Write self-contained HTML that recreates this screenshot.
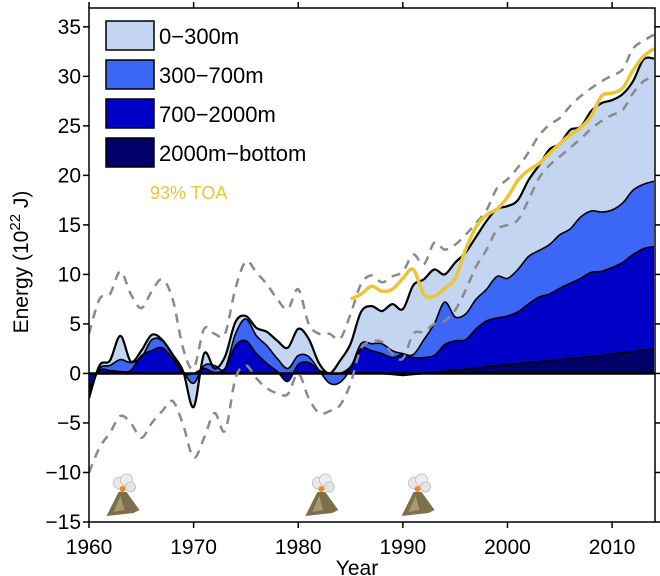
<!DOCTYPE html>
<html><head><meta charset="utf-8"><style>
body{margin:0;background:#fff;}
svg{display:block;font-family:"Liberation Sans",Arial,sans-serif;}
</style></head><body>
<svg id="chart" width="660" height="576" viewBox="0 0 660 576"></svg>
<script>
const years = [];
for (let y = 1960; y <= 2014; y++) years.push(y);
const totalHeat = [-2.5,0.8,1.3,3.8,1.2,2.3,3.9,3.4,1.9,0.2,-3.4,2.0,0.5,1.7,5.2,5.8,4.6,4.2,3.3,2.6,4.5,3.5,1.0,0.0,1.3,3.0,6.2,6.8,6.3,7.0,6.5,8.9,9.5,10.5,10.0,11.2,12.2,13.8,15.4,16.6,16.9,17.5,19.5,21.0,22.6,23.2,24.6,24.9,26.5,27.3,27.6,28.2,29.5,31.7,31.8];
const below300 = [-2.0,0.5,0.8,1.4,1.1,1.6,3.4,3.3,1.8,0.2,-1.0,0.8,0.8,0.5,4.0,5.5,3.8,2.8,1.5,0.5,1.8,1.7,0.3,-1.0,-0.9,0.5,3.0,3.0,3.0,2.3,2.0,1.9,3.4,5.0,7.2,5.7,6.0,7.5,8.5,9.8,9.6,10.5,11.8,12.4,13.0,14.0,14.6,15.8,16.4,16.3,16.5,17.2,18.5,19.1,19.4];
const below700 = [-1.5,0.3,0.3,0.2,0.3,1.8,2.3,2.6,1.5,0.0,0.0,0.5,0.1,0.5,2.8,3.3,2.0,1.0,0.2,-0.8,0.9,1.1,0.3,0.0,0.0,0.7,2.5,2.3,2.0,1.6,1.9,1.6,1.6,1.8,2.9,3.3,3.4,4.5,5.3,5.6,5.8,6.2,7.0,7.7,8.0,8.6,9.1,9.6,10.2,10.3,10.7,11.2,12.0,12.6,12.8];
const below2000 = [0,0,0,0,0,0,0,0,0,0,0,0,0,0,0,0,0,0,0,0,0,0,0,0,0,0,0.05,0.1,0,-0.1,-0.2,-0.1,0,0.11,0.22,0.33,0.44,0.55,0.66,0.77,0.88,0.99,1.1,1.2,1.3,1.4,1.5,1.6,1.7,1.8,1.95,2.1,2.2,2.35,2.5];
const upperBound = [4.0,7.5,8.0,10.3,8.0,6.6,8.3,9.5,7.5,2.5,0.5,4.5,4.0,4.0,8.6,11.3,10.2,9.0,7.5,6.5,8.5,5.0,4.0,4.0,3.5,6.0,9.0,9.9,9.2,9.8,10.3,12.0,11.0,13.2,12.5,13.0,14.0,15.2,16.5,18.7,19.6,20.8,22.3,24.0,25.1,25.8,27.0,28.0,28.8,29.5,30.1,30.7,32.8,33.6,34.2];
const lowerBound = [-10.0,-7.5,-6.0,-4.3,-5.0,-6.5,-5.0,-3.8,-2.8,-5.2,-8.5,-6.5,-4.0,-5.8,-0.5,0.8,-0.5,-1.5,-2.0,-2.1,0.0,-2.5,-4.0,-3.8,-3.2,-1.0,2.5,3.2,3.2,2.0,1.5,4.0,4.2,5.0,5.3,6.4,8.4,10.8,12.5,14.5,15.0,15.5,17.5,19.7,21.0,21.9,22.8,23.7,24.7,25.5,26.1,26.6,28.3,29.5,30.0];
const toaYears = [];
for (let y = 1985; y <= 2014; y++) toaYears.push(y);
const toa93 = [7.5,8.0,8.8,8.3,8.5,9.6,10.5,8.0,7.8,8.6,9.6,12.5,14.8,16.0,16.6,17.8,19.5,20.5,21.2,22.2,23.2,24.1,24.8,26.0,28.0,28.3,28.8,30.6,32.0,32.8];
const yTicks = [-15,-10,-5,0,5,10,15,20,25,30,35];
const xTicks = [1960,1970,1980,1990,2000,2010];
const volcanoYears = [1963.3, 1982.3, 1991.5];

const NS = "http://www.w3.org/2000/svg";
const svg = document.getElementById('chart');
const L = 89, R = 655, T = 8, B = 522;
const X0 = 1960, X1 = 2014.1, Y0 = -15, Y1 = 36.9;
const xs = v => L + (v - X0) / (X1 - X0) * (R - L);
const ys = v => B - (v - Y0) / (Y1 - Y0) * (B - T);

function el(tag, attrs, parent) {
  const e = document.createElementNS(NS, tag);
  for (const k in attrs) e.setAttribute(k, attrs[k]);
  (parent || svg).appendChild(e);
  return e;
}
function pts(xa, ya) { return xa.map((x, i) => [xs(x), ys(ya[i])]); }
function smoothPath(p, move) {
  let d = (move ? 'M' : 'L') + p[0][0].toFixed(1) + ',' + p[0][1].toFixed(1);
  for (let i = 0; i < p.length - 1; i++) {
    const p0 = p[i - 1] || p[i], p1 = p[i], p2 = p[i + 1], p3 = p[i + 2] || p2;
    const c1 = [p1[0] + (p2[0] - p0[0]) / 6, p1[1] + (p2[1] - p0[1]) / 6];
    const c2 = [p2[0] - (p3[0] - p1[0]) / 6, p2[1] - (p3[1] - p1[1]) / 6];
    d += 'C' + c1[0].toFixed(1) + ',' + c1[1].toFixed(1) + ' ' + c2[0].toFixed(1) + ',' + c2[1].toFixed(1) + ' ' + p2[0].toFixed(1) + ',' + p2[1].toFixed(1);
  }
  return d;
}
const zeros = years.map(() => 0);
const clip = el('clipPath', {id: 'plotclip'}, el('defs', {}));
el('rect', {x: L, y: T, width: R - L, height: B - T}, clip);
const g = el('g', {'clip-path': 'url(#plotclip)'});
function gel(tag, attrs) { return el(tag, attrs, g); }
(function () {
  const addBand = (top, bot, fill, name) => {
    const pt = pts(years, top), pb = pts(years, bot).reverse();
    const p = gel('path', {d: smoothPath(pt, true) + smoothPath(pb, false) + 'Z', fill: fill, stroke: 'none'});
    
    
  };
  addBand(totalHeat, below300, '#c3d5f1', 'band-0-300m');
  addBand(below300, below700, '#3c66f6', 'band-300-700m');
  addBand(below700, below2000, '#0000c6', 'band-700-2000m');
  addBand(below2000, zeros, '#000068', 'band-2000m-bottom');
  const line = (xa, ya, stroke, w, dash, name) => {
    const p = gel('path', {d: smoothPath(pts(xa, ya), true), fill: 'none', stroke: stroke, 'stroke-width': w, 'stroke-linejoin': 'round'});
    if (dash) p.setAttribute('stroke-dasharray', dash);
    
    
  };
  line(years, below2000, '#000', 1.6, null, 'line-2000m-bottom');
  line(years, below700, '#000', 1.6, null, 'line-700m');
  line(years, below300, '#000', 1.6, null, 'line-300m');
  const z = gel('line', {x1: L, x2: R, y1: ys(0), y2: ys(0), stroke: '#000', 'stroke-width': 2.5});
  
  
  line(years, totalHeat, '#000', 2.2, null, 'line-total');
  line(years, upperBound, '#8a8a8a', 2.5, '9,7', 'upper-uncertainty');
  line(years, lowerBound, '#8a8a8a', 2.5, '9,7', 'lower-uncertainty');
  line(toaYears, toa93, '#ebc534', 3.5, null, 'line-93pct-toa');
})();

volcanoYears.forEach(v => {
  const cx = xs(v), base = 516;
  const vg = el('g', {});
  
  
  el('polygon', {points: `${cx-17},${base} ${cx-5},${base-24} ${cx+3},${base-24} ${cx+16},${base-6} ${cx+10},${base-3}`, fill: '#7d6e4c'}, vg);
  el('polygon', {points: `${cx-10},${base-4} ${cx-3},${base-20} ${cx+1},${base-6}`, fill: '#a89870'}, vg);
  el('circle', {cx: cx - 4, cy: base - 33, r: 6, fill: '#e8e8e8', stroke: '#bbb', 'stroke-width': 0.8}, vg);
  el('circle', {cx: cx + 3, cy: base - 36, r: 6, fill: '#eee', stroke: '#bbb', 'stroke-width': 0.8}, vg);
  el('circle', {cx: cx + 7, cy: base - 29, r: 5, fill: '#e4e4e4', stroke: '#bbb', 'stroke-width': 0.8}, vg);
  el('circle', {cx: cx - 1, cy: base - 27, r: 3, fill: '#f08a1c'}, vg);
});

const box = el('rect', {x: L, y: T, width: R - L, height: B - T, fill: 'none', stroke: '#000', 'stroke-width': 1.5});


yTicks.forEach(t => {
  const y = ys(t);
  el('line', {x1: L - 6, x2: L, y1: y, y2: y, stroke: '#000', 'stroke-width': 1.5});
  el('line', {x1: R, x2: R + 6, y1: y, y2: y, stroke: '#000', 'stroke-width': 1.5});
  const tx = el('text', {x: L - 8, y: y + 7, 'text-anchor': 'end', 'font-size': 21});
  tx.textContent = t < 0 ? '\u2212' + Math.abs(t) : String(t);
  
  
});
xTicks.forEach(t => {
  const x = xs(t);
  el('line', {x1: x, x2: x, y1: B, y2: B + 6, stroke: '#000', 'stroke-width': 1.5});
  el('line', {x1: x, x2: x, y1: T - 6, y2: T, stroke: '#000', 'stroke-width': 1.5});
  const tx = el('text', {x: x, y: 554, 'text-anchor': 'middle', 'font-size': 21});
  tx.textContent = String(t);
  
  
});
const xt = el('text', {x: 357, y: 575, 'text-anchor': 'middle', 'font-size': 21});
xt.textContent = 'Year';


const yt = el('text', {x: 0, y: 0, 'text-anchor': 'middle', 'font-size': 21, transform: 'translate(28,262) rotate(-90)'});
yt.innerHTML = 'Energy (10<tspan dy="-8" font-size="15">22</tspan><tspan dy="8"> J)</tspan>';



const legItems = [['0\u2212300m', '#c3d5f1'], ['300\u2212700m', '#3c66f6'], ['700\u22122000m', '#0000c6'], ['2000m\u2212bottom', '#000068']];
legItems.forEach((it, i) => {
  const y = 21 + i * 39;
  const lg = el('g', {});
  
  
  el('rect', {x: 106, y: y, width: 48, height: 29, fill: it[1], stroke: '#000', 'stroke-width': 1.5}, lg);
  const t = el('text', {x: 159, y: y + 23, 'font-size': 22}, lg);
  t.textContent = it[0];
});
const toaL = el('text', {x: 150, y: 199, 'font-size': 18, fill: '#ebc534'});
toaL.textContent = '93% TOA';


</script>
</body></html>
